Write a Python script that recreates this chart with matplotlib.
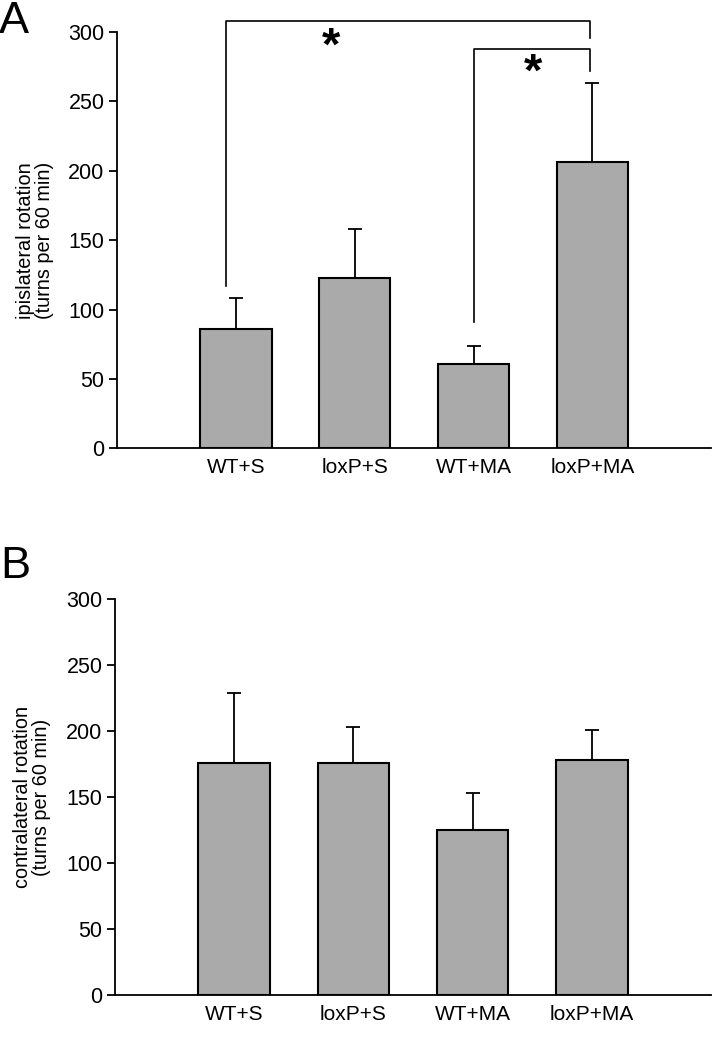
import matplotlib.pyplot as plt
import numpy as np

plt.rcParams['font.family'] = ['Liberation Sans', 'DejaVu Sans']

groups = ['WT+S', 'loxP+S', 'WT+MA', 'loxP+MA']
ipsi_mean = [86, 123, 61, 206]
ipsi_err = [22, 35, 13, 57]
contra_mean = [176, 176, 125, 178]
contra_err = [53, 27, 28, 23]
yticks = [0, 50, 100, 150, 200, 250, 300]

bar_color = '#aaaaaa'
x = np.arange(len(groups))

fig = plt.figure(figsize=(7.14, 10.5), dpi=100)
axA = fig.add_axes([0.164, 0.573, 0.832, 0.3965])
axB = fig.add_axes([0.161, 0.0524, 0.835, 0.3768])


def draw_panel(ax, means, errs, ylabel):
    ax.bar(x, means, width=0.6, color=bar_color, edgecolor='black', linewidth=1.5, zorder=2)
    ax.errorbar(x, means, yerr=[np.zeros(len(errs)), errs], fmt='none', ecolor='black',
                elinewidth=1.3, capsize=5, capthick=1.3, zorder=1)
    ax.set_xlim(-1, 4)
    ax.set_ylim(0, 300)
    ax.set_yticks(yticks)
    ax.set_xticks(x)
    ax.set_xticklabels(groups, fontsize=15)
    ax.tick_params(axis='x', length=0, pad=7)
    ax.tick_params(axis='y', labelsize=15.5, length=6, width=1.3, direction='out', pad=3)
    for s in ['top', 'right']:
        ax.spines[s].set_visible(False)
    for s in ['left', 'bottom']:
        ax.spines[s].set_linewidth(1.3)
    ax.set_ylabel(ylabel, fontsize=14.3, linespacing=1.0)
    ax.yaxis.set_label_coords(-0.107, 0.5)


draw_panel(axA, ipsi_mean, ipsi_err, 'ipislateral rotation\n(turns per 60 min)')
draw_panel(axB, contra_mean, contra_err, 'contralateral rotation\n(turns per 60 min)')

# significance brackets
axA.plot([-0.08, -0.08, 2.98, 2.98], [117, 308, 308, 296], color='black', lw=1.2, clip_on=False)
axA.plot([2.0, 2.0, 2.98, 2.98], [91, 288, 288, 272], color='black', lw=1.2, clip_on=False)
axA.text(0.8, 289, '*', fontsize=34, fontweight='bold', ha='center', va='center')
axA.text(2.5, 270, '*', fontsize=34, fontweight='bold', ha='center', va='center')

fig.text(-0.002, 0.9686, 'A', fontsize=32.5, ha='left', va='baseline')
fig.text(0.0, 0.4495, 'B', fontsize=32.5, ha='left', va='baseline')

fig.savefig('out.png', dpi=100)
